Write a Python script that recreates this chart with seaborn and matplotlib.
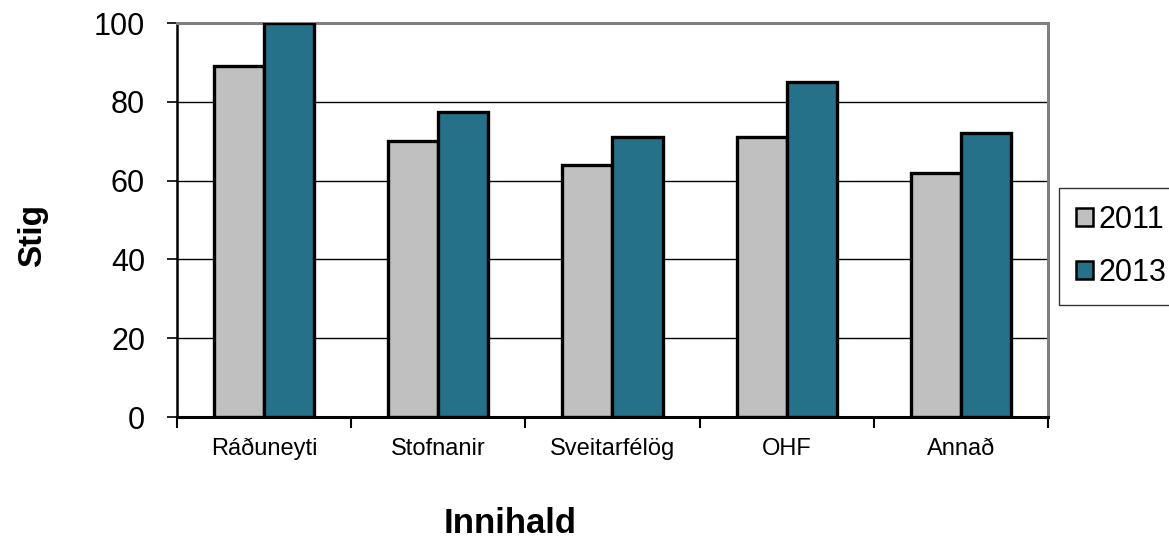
import pandas as pd
import seaborn as sns
import matplotlib.pyplot as plt
from matplotlib.ticker import FixedLocator

# Data
categories = ['Ráðuneyti', 'Stofnanir', 'Sveitarfélög', 'OHF', 'Annað']
years = ['2011', '2013']
values_2011 = [89, 70, 64, 71, 62]
values_2013 = [100, 77.5, 71, 85, 72]

df = pd.DataFrame({
    'Innihald': categories * 2,
    'Ár': [years[0]] * 5 + [years[1]] * 5,
    'Stig': values_2011 + values_2013,
})

sns.set_style('white')
plt.rcParams['font.family'] = ['Liberation Sans', 'DejaVu Sans']
plt.rcParams['text.color'] = 'black'
plt.rcParams['axes.labelcolor'] = 'black'
plt.rcParams['xtick.color'] = 'black'
plt.rcParams['ytick.color'] = 'black'

fig = plt.figure(figsize=(11.69, 5.38), dpi=100)
ax = fig.add_axes([0.1514, 0.2249, 0.7451, 0.7321])

sns.barplot(data=df, x='Innihald', y='Stig', hue='Ár',
            palette=['#C0C0C0', '#25718A'], width=0.575,
            edgecolor='black', linewidth=2.4, saturation=1, ax=ax, zorder=3)

ax.set_ylim(0, 100)
ax.set_xlim(-0.5, len(categories) - 0.5)
ax.set_yticks([0, 20, 40, 60, 80, 100])
ax.yaxis.grid(True, color='black', linewidth=1.0, zorder=0)
ax.set_axisbelow(True)

# ticks: labels at category centres, tick marks at the boundaries
ax.tick_params(axis='x', which='major', length=0, pad=15, labelsize=17)
ax.xaxis.set_minor_locator(FixedLocator([i - 0.5 for i in range(len(categories) + 1)]))
ax.tick_params(axis='x', which='minor', length=8, width=1.5, color='black', bottom=True)
ax.tick_params(axis='y', length=7, width=1.2, color='black', pad=16, labelsize=22, left=True)

for side in ['top', 'right']:
    ax.spines[side].set_color('#808080')
    ax.spines[side].set_linewidth(2.2)
ax.spines['left'].set_color('black')
ax.spines['left'].set_linewidth(1.8)
ax.spines['bottom'].set_color('black')
ax.spines['bottom'].set_linewidth(2.2)

ax.set_xlabel('Innihald', fontsize=25, fontweight='bold')
ax.set_ylabel('Stig', fontsize=24, fontweight='bold')
ax.xaxis.set_label_coords(0.382, -0.228)
ax.yaxis.set_label_coords(-0.148, 0.462)

leg = ax.legend(title=None, loc='upper left', bbox_to_anchor=(1059 / 1169, 350 / 538),
                bbox_transform=fig.transFigure, fontsize=22, frameon=True,
                fancybox=False, edgecolor='black', borderaxespad=0,
                handlelength=0.55, handleheight=0.55, handletextpad=0.2,
                borderpad=0.55, labelspacing=0.75)
leg.get_frame().set_linewidth(1.0)
for h in leg.legend_handles:
    h.set_linewidth(1.8)

fig.savefig('out.png', dpi=100)
